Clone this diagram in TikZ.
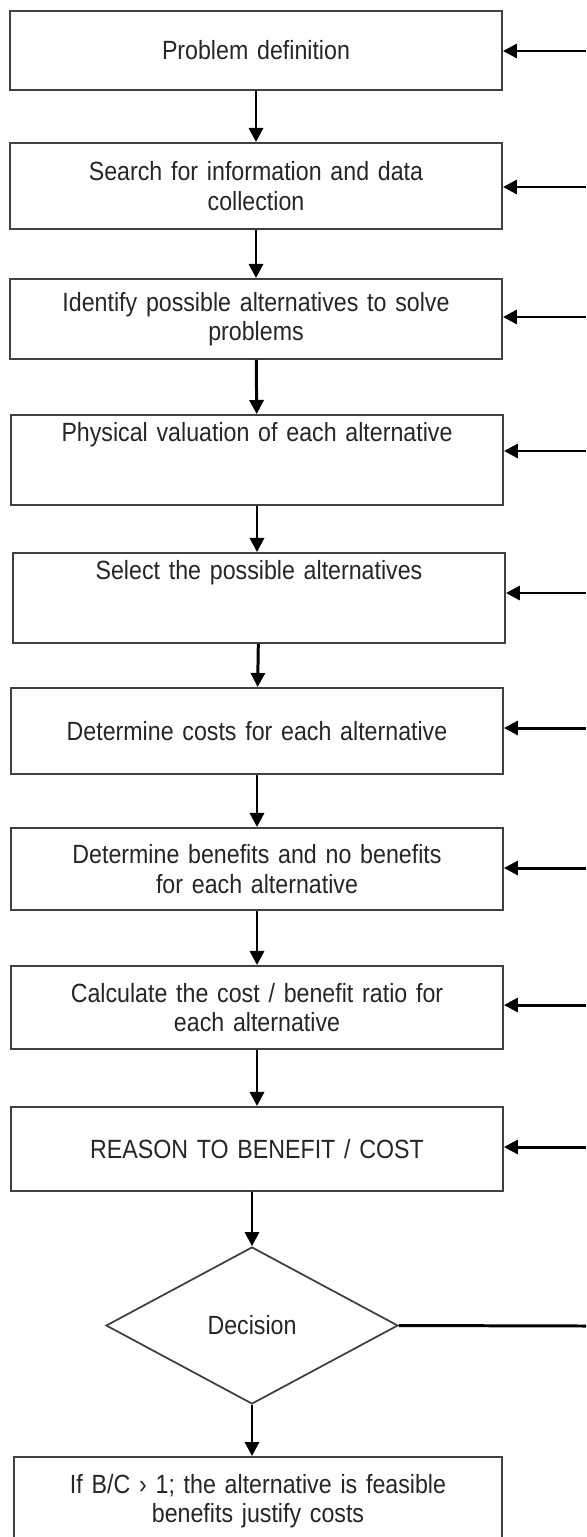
\documentclass[tikz,border=0pt]{standalone}
\usepackage{fontspec}
\setmainfont{Liberation Sans}[FakeStretch=0.88]
\usetikzlibrary{arrows.meta,shapes.geometric}
\tikzset{
    stepbox/.style = {draw=black!75, fill=white, line width=1.1pt, rectangle, minimum width=9.84cm, text width=9.6cm, align=center, inner sep=0pt, text=black!85, font=\fontsize{15}{16.7}\selectfont},
    decisionbox/.style = {draw=black!75, fill=white, line width=1pt, diamond, aspect=1.86, minimum width=5.84cm, minimum height=3.14cm, inner sep=0pt, text=black!85, font=\fontsize{15}{16.7}\selectfont},
    flow/.style = {line width=1.7pt, -{Triangle[length=8pt,width=8pt]}},
    back/.style = {line width=1.7pt, -{Triangle[length=8pt,width=8pt]}},
}
\begin{document}
\begin{tikzpicture}[x=0.02cm,y=-0.02cm]
\useasboundingbox (0,0) rectangle (586,1537);
% steps
\node [stepbox, minimum height=1.58cm] (b1) at (256,50.5) {Problem definition};
\node [stepbox, minimum height=1.72cm] (b2) at (256,186) {Search for information and data\\collection};
\node [stepbox, minimum height=1.60cm] (b3) at (256,319) {Identify possible alternatives to solve\\problems};
\node [stepbox, minimum height=1.80cm] (b4) at (257,460) {Physical valuation of each alternative\\[1.0em]\mbox{}};
\node [stepbox, minimum height=1.80cm] (b5) at (259,598) {Select the possible alternatives\\[1.0em]\mbox{}};
\node [stepbox, minimum height=1.72cm] (b6) at (257,731) {Determine costs for each alternative};
\node [stepbox, minimum height=1.64cm] (b7) at (257,869) {Determine benefits and no benefits\\for each alternative};
\node [stepbox, minimum height=1.66cm] (b8) at (257,1007.5) {Calculate the cost / benefit ratio for\\each alternative};
\node [stepbox, minimum height=1.68cm] (b9) at (257,1149) {REASON TO BENEFIT / COST};
\node [decisionbox] (dec) at (252,1325.5) {Decision};
\node [stepbox, minimum height=1.76cm, minimum width=9.76cm] (b10) at (258,1501) {If B/C › 1; the alternative is feasible\\benefits justify costs};

% main flow
\draw [flow] (b1) -- (b2);
\draw [flow] (b2) -- (b3);
\draw [flow] (b3) -- (b4);
\draw [flow] (b4.south) -- (b5.north -| b4.south);
\draw [flow] (b5) -- (b6);
\draw [flow] (b6) -- (b7);
\draw [flow] (b7) -- (b8);
\draw [flow] (b8) -- (b9);
\draw [flow] (b9.south -| dec.north) -- (dec.north);
\draw [flow] (dec.south) -- (b10.north -| dec.south);

% feedback from the right
\coordinate (r1) at (586,51);
\coordinate (r2) at (586,187);
\coordinate (r3) at (586,317);
\coordinate (r4) at (586,451);
\coordinate (r5) at (586,593);
\coordinate (r6) at (586,728);
\coordinate (r7) at (586,868);
\coordinate (r8) at (586,1005);
\coordinate (r9) at (586,1147);
\coordinate (rd) at (586,1326);
\foreach \i in {1,...,9}
    \draw [back] (r\i) -- (r\i -| b\i.east);
\draw [line width=1.7pt] (dec.east) -- (rd);
\end{tikzpicture}
\end{document}
